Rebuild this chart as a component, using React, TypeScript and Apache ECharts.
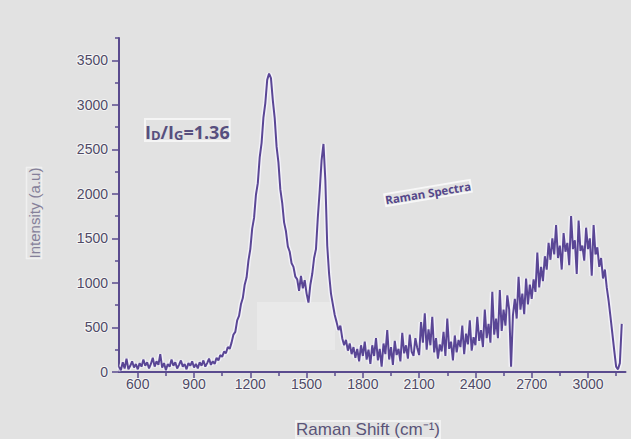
import React, { useEffect, useRef } from "react";
import * as echarts from "echarts";

const ramanShift = [
  500, 510, 520, 530, 540, 550, 560, 570, 580, 590,
  600, 610, 620, 630, 640, 650, 660, 670, 680, 690,
  700, 710, 720, 730, 740, 750, 760, 770, 780, 790,
  800, 810, 820, 830, 840, 850, 860, 870, 880, 890,
  900, 910, 920, 930, 940, 950, 960, 970, 980, 990,
  1000, 1010, 1020, 1030, 1040, 1050, 1060, 1070, 1080, 1090,
  1100, 1110, 1120, 1130, 1140, 1150, 1160, 1170, 1180, 1190,
  1200, 1210, 1220, 1230, 1240, 1250, 1260, 1270, 1280, 1290,
  1300, 1310, 1320, 1330, 1340, 1350, 1360, 1370, 1380, 1390,
  1400, 1410, 1420, 1430, 1440, 1450, 1460, 1470, 1480, 1490,
  1500, 1510, 1520, 1530, 1540, 1550, 1560, 1570, 1580, 1590,
  1600, 1610, 1620, 1630, 1640, 1650, 1660, 1670, 1680, 1690,
  1700, 1710, 1720, 1730, 1740, 1750, 1760, 1770, 1780, 1790,
  1800, 1810, 1820, 1830, 1840, 1850, 1860, 1870, 1880, 1890,
  1900, 1910, 1920, 1930, 1940, 1950, 1960, 1970, 1980, 1990,
  2000, 2010, 2020, 2030, 2040, 2050, 2060, 2070, 2080, 2090,
  2100, 2110, 2120, 2130, 2140, 2150, 2160, 2170, 2180, 2190,
  2200, 2210, 2220, 2230, 2240, 2250, 2260, 2270, 2280, 2290,
  2300, 2310, 2320, 2330, 2340, 2350, 2360, 2370, 2380, 2390,
  2400, 2410, 2420, 2430, 2440, 2450, 2460, 2470, 2480, 2490,
  2500, 2510, 2520, 2530, 2540, 2550, 2560, 2570, 2580, 2590,
  2600, 2610, 2620, 2630, 2640, 2650, 2660, 2670, 2680, 2690,
  2700, 2710, 2720, 2730, 2740, 2750, 2760, 2770, 2780, 2790,
  2800, 2810, 2820, 2830, 2840, 2850, 2860, 2870, 2880, 2890,
  2900, 2910, 2920, 2930, 2940, 2950, 2960, 2970, 2980, 2990,
  3000, 3010, 3020, 3030, 3040, 3050, 3060, 3070, 3080, 3090,
  3100, 3110, 3120, 3130, 3140, 3150, 3160, 3170, 3180,
];

// Intensity (a.u)
const intensity = [
  60, 20, 110, 40, 150, 30, 70, 120, 50, 90,
  30, 100, 60, 140, 70, 110, 40, 90, 160, 60,
  120, 80, 200, 50, 100, 20, 90, 60, 140, 70,
  110, 40, 80, 130, 60, 90, 30, 100, 70, 120,
  50, 90, 40, 110, 70, 130, 60, 100, 150, 80,
  120, 90, 160, 130, 190, 170, 230, 210, 280, 260,
  330, 420, 450, 580, 630, 760, 830, 980, 1060, 1250,
  1380, 1610, 1730, 1990, 2120, 2410, 2570, 2860, 3020, 3280,
  3350, 3300, 3050, 2850, 2530, 2350, 2050, 1900, 1680, 1580,
  1410, 1350, 1220, 1180, 1070, 1040, 910, 1080, 940, 1030,
  880, 780, 980, 1100, 1280, 1380, 1740, 2040, 2380, 2560,
  2150, 1420, 1100, 880, 760, 640, 560, 470, 520, 380,
  300, 360, 240, 320, 200, 280, 160, 260, 120, 300,
  180, 340, 140, 250, 90, 300, 180, 380, 130, 260,
  60, 320, 200, 470, 140, 280, 80, 350, 190, 260,
  120, 440, 210, 300, 150, 420, 230, 180, 380, 270,
  190, 560, 330, 660, 250, 480, 300, 620, 220, 380,
  150, 310, 230, 450, 180, 600, 260, 340, 130, 410,
  220, 360, 280, 520, 200, 430, 310, 580, 240, 390,
  300, 620, 350, 470, 280, 700, 380, 540, 330, 900,
  420, 600, 380, 920, 460, 700, 520, 860, 700, 60,
  640, 820, 600, 1070, 700, 880, 650, 1050, 760, 980,
  820, 1040, 900, 1340, 950, 1180, 1020, 1300, 1150, 1450,
  1260, 1500, 1320, 1650, 1280, 1420, 1150, 1560, 1350, 1450,
  1200, 1750, 1380, 1480, 1100, 1700, 1360, 1420, 1250, 1620,
  1380, 1500, 1080, 1650, 1320, 1400, 1180, 1280, 1050, 1150,
  950, 800, 620, 430, 240, 60, 30, 100, 540,
];

const xTickLabels = [600, 900, 1200, 1500, 1800, 2100, 2400, 2700, 3000];
const xMinorTicks = [750, 1050, 1350, 1650, 1950, 2250, 2550, 2850, 3150];
const yTickLabels = [0, 500, 1000, 1500, 2000, 2500, 3000, 3500];
const yMinorTicks = [250, 750, 1250, 1750, 2250, 2750, 3250, 3750];

const xAxisTitle = "Raman Shift (cm⁻¹)";
const yAxisTitle = "Intensity (a.u)";
const ratioValue = "1.36";
const spectrumLabel = "Raman Spectra";

const AXIS_COLOR = "#5a4b8e";
const LABEL_COLOR = "#4f4a66";
const LINE_COLOR = "#5a4695";
const FONT = "'Liberation Sans', Arial, sans-serif";

export default function App() {
  const ref = useRef<HTMLDivElement>(null);

  useEffect(() => {
    if (!ref.current) return;
    const chart = echarts.init(ref.current, undefined, { renderer: "svg" });
    const data = ramanShift.map((x, i) => [x, intensity[i]]);

    const labelStyle = {
      color: LABEL_COLOR,
      fontSize: 14,
      fontFamily: FONT,
      textBorderColor: "rgba(250,250,250,0.8)",
      textBorderWidth: 2,
      formatter: (v: number) => String(v),
    };

    chart.setOption({
      animation: false,
      backgroundColor: "#e2e2e2",
      grid: { left: 119, right: 5.5, top: 38, bottom: 67, containLabel: false },
      xAxis: [
        {
          type: "value",
          min: 500,
          max: 3200,
          position: "bottom",
          axisLine: { show: true, onZero: false, lineStyle: { color: AXIS_COLOR, width: 2 } },
          axisTick: { show: true, length: 6, customValues: xTickLabels, lineStyle: { color: AXIS_COLOR, width: 1.5 } },
          axisLabel: { ...labelStyle, margin: 5, customValues: xTickLabels },
          splitLine: { show: false },
        },
        {
          type: "value",
          min: 500,
          max: 3200,
          position: "bottom",
          axisLine: { show: false, onZero: false },
          axisTick: { show: true, length: 4, customValues: xMinorTicks, lineStyle: { color: AXIS_COLOR, width: 1.5 } },
          axisLabel: { show: false },
          splitLine: { show: false },
        },
      ],
      yAxis: [
        {
          type: "value",
          min: 0,
          max: 3750,
          position: "left",
          axisLine: { show: true, onZero: false, lineStyle: { color: AXIS_COLOR, width: 2 } },
          axisTick: { show: true, length: 7, customValues: yTickLabels, lineStyle: { color: AXIS_COLOR, width: 1.5 } },
          axisLabel: { ...labelStyle, margin: 11, customValues: yTickLabels },
          splitLine: { show: false },
        },
        {
          type: "value",
          min: 0,
          max: 3750,
          position: "left",
          axisLine: { show: false, onZero: false },
          axisTick: { show: true, length: 4, customValues: yMinorTicks, lineStyle: { color: AXIS_COLOR, width: 1.5 } },
          axisLabel: { show: false },
          splitLine: { show: false },
        },
      ],
      series: [
        {
          type: "line",
          data,
          xAxisIndex: 0,
          yAxisIndex: 0,
          showSymbol: false,
          symbol: "none",
          silent: true,
          z: 2,
          lineStyle: { color: "rgba(246,244,252,0.85)", width: 5 },
        },
        {
          type: "line",
          data,
          xAxisIndex: 0,
          yAxisIndex: 0,
          showSymbol: false,
          symbol: "none",
          z: 3,
          lineStyle: { color: LINE_COLOR, width: 2 },
        },
      ],
      graphic: [
        {
          type: "rect",
          z: 1,
          shape: { x: 257, y: 302, width: 78, height: 48 },
          style: { fill: "rgba(234,234,234,0.9)" },
        },
        {
          type: "text",
          z: 10,
          x: 34,
          y: 213,
          rotation: Math.PI / 2,
          style: {
            text: yAxisTitle,
            fill: "#858099",
            font: `15px ${FONT}`,
            align: "center",
            verticalAlign: "middle",
            textBorderColor: "rgba(250,250,250,0.6)",
            textBorderWidth: 1.5,
          },
        },
        {
          type: "text",
          z: 10,
          x: 368,
          y: 438,
          style: {
            text: xAxisTitle,
            fill: "#5a5478",
            font: `17px ${FONT}`,
            align: "center",
            verticalAlign: "bottom",
            textBorderColor: "rgba(250,250,250,0.7)",
            textBorderWidth: 2,
          },
        },
        {
          type: "text",
          z: 10,
          x: 145,
          y: 141,
          style: {
            text: `{a|I}{b|D}{a|/I}{b|G}{a|=${ratioValue}}`,
            align: "left",
            verticalAlign: "bottom",
            textBorderColor: "rgba(250,250,250,0.8)",
            textBorderWidth: 2,
            rich: {
              a: { fontSize: 18, fontWeight: "bold", fontFamily: "'Open Sans', sans-serif", fill: "#574f7e", color: "#574f7e", lineHeight: 22, verticalAlign: "bottom" },
              b: { fontSize: 13, fontWeight: "bold", fontFamily: "'Open Sans', sans-serif", fill: "#574f7e", color: "#574f7e", lineHeight: 18, verticalAlign: "bottom" },
            },
          },
        },
        {
          type: "text",
          z: 10,
          x: 428,
          y: 193,
          rotation: 0.165,
          style: {
            text: spectrumLabel,
            fill: "#55478a",
            font: `bold 11.5px 'Open Sans', sans-serif`,
            align: "center",
            verticalAlign: "middle",
            textBorderColor: "rgba(250,250,250,0.85)",
            textBorderWidth: 2,
          },
        },
      ],
    });

    return () => chart.dispose();
  }, []);

  return (
    <div
      ref={ref}
      style={{ position: "fixed", left: 0, top: 0, width: 631, height: 439 }}
    />
  );
}
